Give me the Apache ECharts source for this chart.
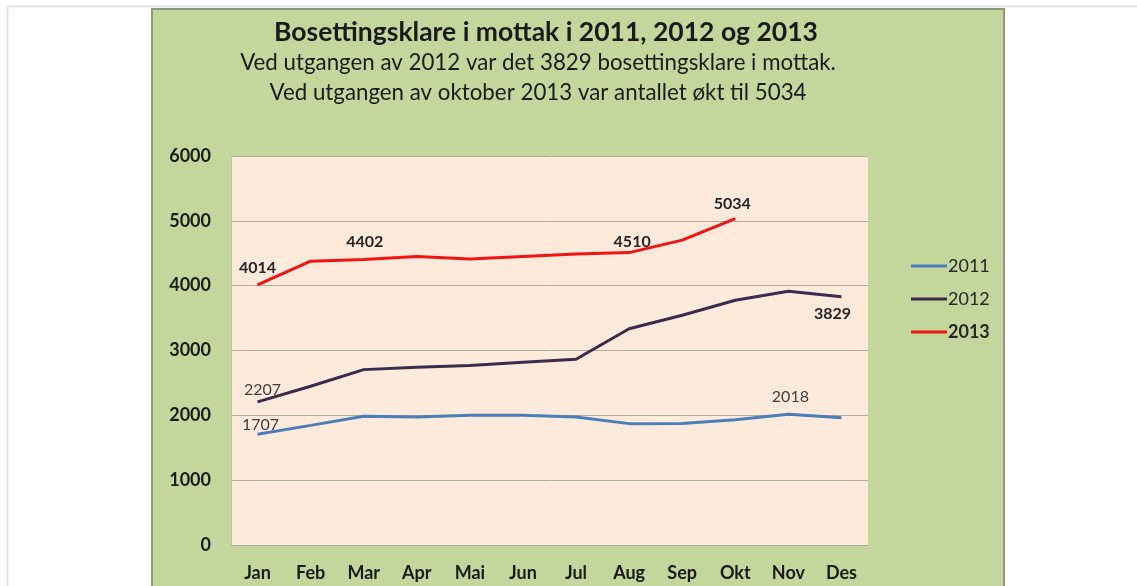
<!DOCTYPE html>
<html><head><meta charset="utf-8">
<script src="https://cdn.jsdelivr.net/npm/echarts@6/dist/echarts.min.js"></script>
<style>html,body{margin:0;padding:0;background:#fff;}#c{width:1137px;height:586px;}</style>
</head><body><div id="c"></div>
<script>
const months = ['Jan','Feb','Mar','Apr','Mai','Jun','Jul','Aug','Sep','Okt','Nov','Des'];
const yTicks = [0,1000,2000,3000,4000,5000,6000];
const s2011 = [1707,1845,1985,1975,2000,2000,1975,1872,1875,1933,2018,1964];
const s2012 = [2207,2448,2705,2740,2770,2820,2865,3335,3544,3776,3915,3829];
const s2013 = [4014,4378,4402,4450,4410,4450,4490,4510,4703,5034];

const FONT = 'Lato';
function mk(values, labels) {
  return values.map((v, i) => {
    const l = labels[i];
    return l ? {value: v, label: Object.assign({show: true, fontFamily: FONT, fontSize: 16, color: '#262626'}, l)} : v;
  });
}
const chart = echarts.init(document.getElementById('c'));
chart.setOption({
  animation: false,
  backgroundColor: '#ffffff',
  graphic: [
    {type: 'rect', shape: {x: 7.5, y: 6.5, width: 1140, height: 600}, style: {fill: '#ffffff', stroke: '#dbe5f1', lineWidth: 2}, z: -10},
    {type: 'rect', shape: {x: 152, y: 9, width: 852, height: 590}, style: {fill: '#c3d69b', stroke: '#8c9a7a', lineWidth: 2}, z: -9}
  ],
  title: [
    {text: 'Bosettingsklare i mottak i 2011, 2012 og 2013', left: 541, top: 14, textAlign: 'center',
     textStyle: {fontFamily: FONT, fontWeight: 'bold', fontSize: 26.5, color: '#1a1a1a'}},
    {text: 'Ved utgangen av 2012 var det 3829 bosettingsklare i mottak.', left: 533, top: 47, textAlign: 'center',
     textStyle: {fontFamily: FONT, fontWeight: 'normal', fontSize: 22.3, color: '#1a1a1a'}},
    {text: 'Ved utgangen av oktober 2013 var antallet økt til 5034', left: 533, top: 77, textAlign: 'center',
     textStyle: {fontFamily: FONT, fontWeight: 'normal', fontSize: 22.3, color: '#1a1a1a'}}
  ],
  legend: {
    orient: 'vertical', left: 906, top: 252, itemGap: 15, itemWidth: 36, itemHeight: 3, icon: 'rect',
    textStyle: {fontFamily: FONT, fontSize: 18, color: '#262626', padding: [0,0,0,-4]},
    data: [
      {name: '2011'}, {name: '2012'},
      {name: '2013', textStyle: {fontWeight: 'bold'}}
    ]
  },
  grid: {left: 231, right: 269, top: 156, bottom: 41, show: true, backgroundColor: '#fdeada', borderWidth: 0},
  xAxis: {
    type: 'category', data: months, boundaryGap: true,
    axisLine: {show: true, lineStyle: {color: '#a6a6a6', width: 1}},
    axisTick: {show: false},
    axisLabel: {fontFamily: FONT, fontWeight: 'bold', fontSize: 18, color: '#1a1a1a', margin: 19}
  },
  yAxis: {
    type: 'value', min: 0, max: 6000, interval: 1000,
    axisLine: {show: true, lineStyle: {color: '#c8c0b0', width: 1}},
    axisTick: {show: false},
    splitLine: {lineStyle: {color: '#b0aaa0', width: 1}},
    axisLabel: {fontFamily: FONT, fontWeight: 'bold', fontSize: 18, color: '#1a1a1a', margin: 20,
      formatter: v => yTicks.includes(v) ? String(v) : ''}
  },
  series: [
    {name: '2011', type: 'line', showSymbol: true, symbolSize: 0, lineStyle: {width: 3, color: '#4a7ebb'}, itemStyle: {color: '#4a7ebb'},
     data: mk(s2011, {0: {position: 'top', distance: 1, offset: [3, 0], color: '#404040', fontWeight: 'normal'}, 10: {position: 'top', distance: 9, offset: [2, 0], color: '#404040', fontWeight: 'normal'}})},
    {name: '2012', type: 'line', showSymbol: true, symbolSize: 0, lineStyle: {width: 3, color: '#3b2b4d'}, itemStyle: {color: '#3b2b4d'},
     data: mk(s2012, {0: {position: 'top', distance: 4, offset: [5, 0], color: '#404040', fontWeight: 'normal'}, 11: {position: 'bottom', distance: 9, offset: [-9, 0], fontWeight: 'bold'}})},
    {name: '2013', type: 'line', showSymbol: true, symbolSize: 0, lineStyle: {width: 3, color: '#f01414'}, itemStyle: {color: '#f01414'},
     data: mk(s2013, {0: {position: 'top', distance: 9, fontWeight: 'bold'}, 2: {position: 'top', distance: 10, offset: [1, 0], fontWeight: 'bold'}, 7: {position: 'top', distance: 3, offset: [3, 0], fontWeight: 'bold'}, 9: {position: 'top', distance: 7, offset: [-3, 0], fontWeight: 'bold'}})}
  ]
});
</script></body></html>
